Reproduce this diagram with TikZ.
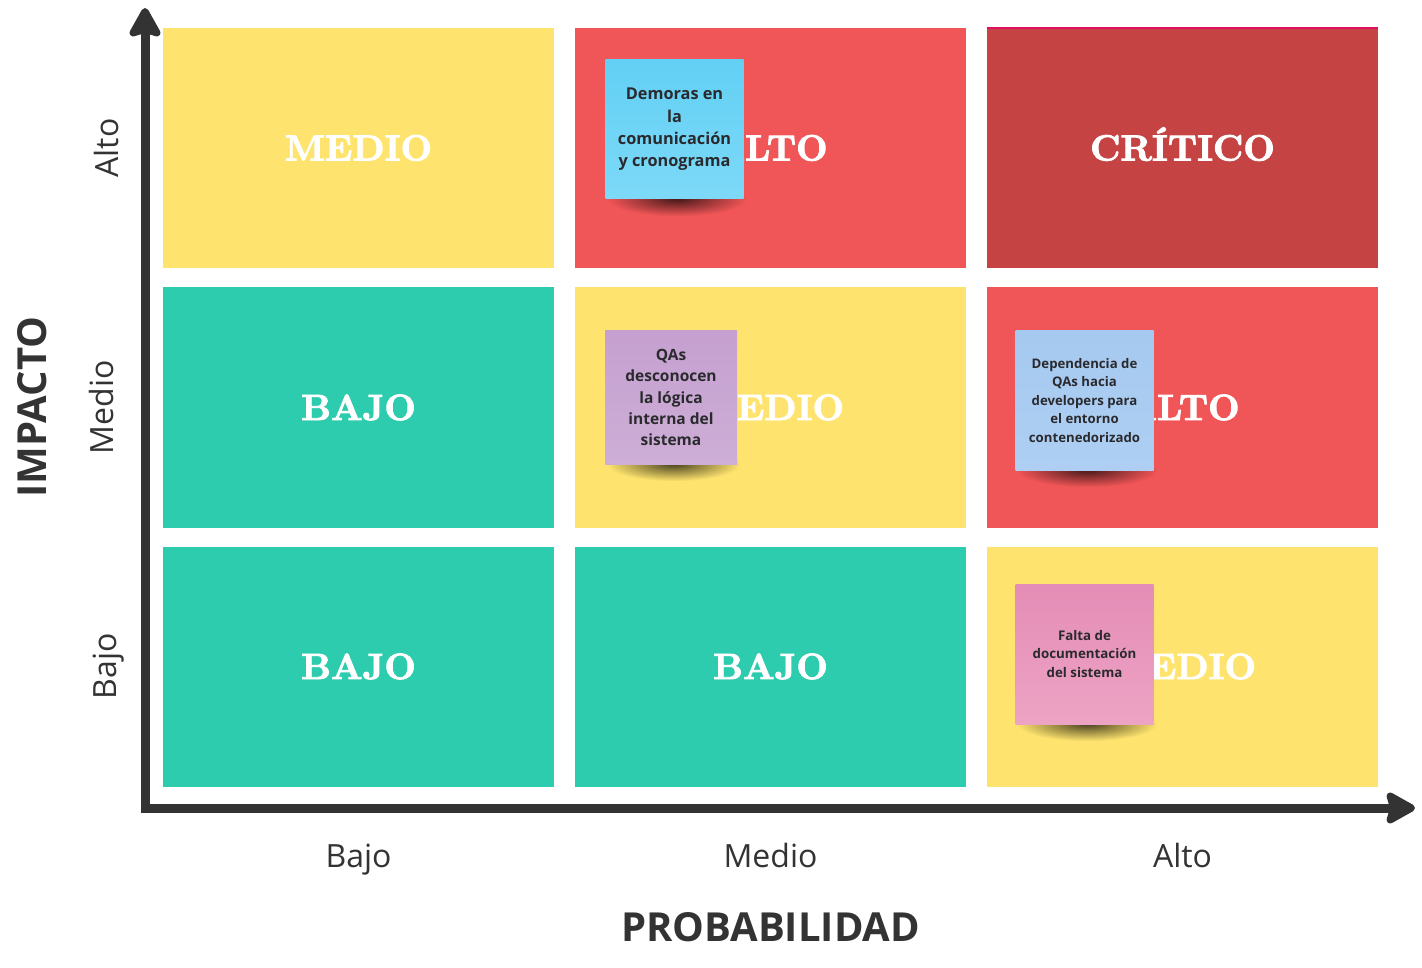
\documentclass[tikz,border=0pt]{standalone}
\usepackage{fontspec}
\setmainfont{Open Sans}
\newfontfamily\slab{lmroman10-bold.otf}[FakeBold=2.4]
\usetikzlibrary{arrows.meta,fadings}
\tikzfading[name=softblob, inner color=transparent!0, outer color=transparent!100]
\definecolor{cyel}{HTML}{FEE46F}
\definecolor{cred}{HTML}{F05557}
\definecolor{cdark}{HTML}{C64343}
\definecolor{cteal}{HTML}{2ECCAE}
\definecolor{axisc}{HTML}{333333}
\definecolor{txtc}{HTML}{2A2A2E}
\definecolor{pinkline}{HTML}{E0115F}
\definecolor{s1top}{RGB}{98,208,244}
\definecolor{s1bot}{RGB}{125,217,247}
\definecolor{s2top}{RGB}{197,160,208}
\definecolor{s2bot}{RGB}{205,174,214}
\definecolor{s3top}{RGB}{166,201,240}
\definecolor{s3bot}{RGB}{174,207,243}
\definecolor{s4top}{RGB}{228,141,182}
\definecolor{s4bot}{RGB}{237,163,196}
\tikzset{
  cell/.style={minimum width=391pt, minimum height=240pt, inner sep=0pt,
    text height=25pt, text depth=0pt,
    text=white, font=\slab\fontsize{36.5}{40}\selectfont},
  sticky/.style={minimum width=138pt, minimum height=139pt, inner sep=0pt,
    align=center, text=txtc},
  shadowblob/.style={fill=black, fill opacity=0.7, path fading=softblob},
  axislabel/.style={text=axisc, font=\fontsize{32}{36}\selectfont, inner sep=0pt},
  axistitle/.style={text=axisc, font=\bfseries\fontsize{40}{44}\selectfont, inner sep=0pt},
  axisline/.style={draw=axisc, line width=9pt,
    -{Stealth[length=34pt, width=37pt, inset=5pt, round]}}
}
\begin{document}
\begin{tikzpicture}[x=1pt, y=-1pt]
\useasboundingbox (0,0) rectangle (1422,968);
% cells
\node[cell, fill=cyel]  (c11) at (358.5,148) {MEDIO};
\node[cell, fill=cred]  (c12) at (770.5,148) {ALTO};
\node[cell, fill=cdark] (c13) at (1182.5,148) {CRÍTICO};
\node[cell, fill=cteal] (c21) at (358.5,407.5) {BAJO};
\node[cell, fill=cyel]  (c22) at (770.5,407.5) {MEDIO};
\node[cell, fill=cred]  (c23) at (1182.5,407.5) {ALTO};
\node[cell, fill=cteal] (c31) at (358.5,666.5) {BAJO};
\node[cell, fill=cteal] (c32) at (770.5,666.5) {BAJO};
\node[cell, fill=cyel]  (c33) at (1182.5,666.5) {MEDIO};
\draw[pinkline, line width=2.5pt] (c13.north west) -- (c13.north east);
% shadows of the sticky notes
\fill[shadowblob] (608,182) rectangle (746,216);
\fill[shadowblob] (607,447) rectangle (740,481);
\fill[shadowblob] (1017,453) rectangle (1157,487);
\fill[shadowblob] (1017,707) rectangle (1157,741);
% sticky notes
\node[sticky, top color=s1top, bottom color=s1bot,
  font=\bfseries\fontsize{16.3}{22.3}\selectfont]
  (s1) at (674.5,129.5) {Demoras en\\la\\comunicación\\y cronograma};
\node[sticky, minimum width=132pt, minimum height=133pt,
  top color=s2top, bottom color=s2bot,
  font=\bfseries\fontsize{15.5}{21.3}\selectfont]
  (s2) at (671,397.5) {QAs\\desconocen\\la lógica\\interna del\\sistema};
\node[sticky, top color=s3top, bottom color=s3bot,
  font=\bfseries\fontsize{13.2}{18.5}\selectfont]
  (s3) at (1084.5,400.5) {Dependencia de\\QAs hacia\\developers para\\el entorno\\contenedorizado};
\node[sticky, minimum height=140pt, top color=s4top, bottom color=s4bot,
  font=\bfseries\fontsize{13.3}{18.5}\selectfont]
  (s4) at (1084.5,654) {Falta de\\documentación\\del sistema};
% axes
\coordinate (origin) at (145,808);
\coordinate (ytip) at (145,8);
\coordinate (xtip) at (1415,808);
\draw[axisline] (origin) -- (ytip);
\draw[axisline] (origin) -- (xtip);
\fill[axisc] (140.5,803.5) rectangle (149.5,812.5);
% axis labels
\node[axislabel, anchor=base] (px1) at (358.5,867) {Bajo};
\node[axislabel, anchor=base] (px2) at (770.5,867) {Medio};
\node[axislabel, anchor=base] (px3) at (1182.5,867) {Alto};
\node[axislabel, anchor=base, rotate=90] (iy1) at (118,148) {Alto};
\node[axislabel, anchor=base, rotate=90] (iy2) at (113,407.5) {Medio};
\node[axislabel, anchor=base, rotate=90] (iy3) at (116,666.5) {Bajo};
\node[axistitle, anchor=base] (ptitle) at (770.5,941) {PROBABILIDAD};
\node[axistitle, anchor=base, rotate=90] (ititle) at (46,407) {IMPACTO};
\end{tikzpicture}
\end{document}
